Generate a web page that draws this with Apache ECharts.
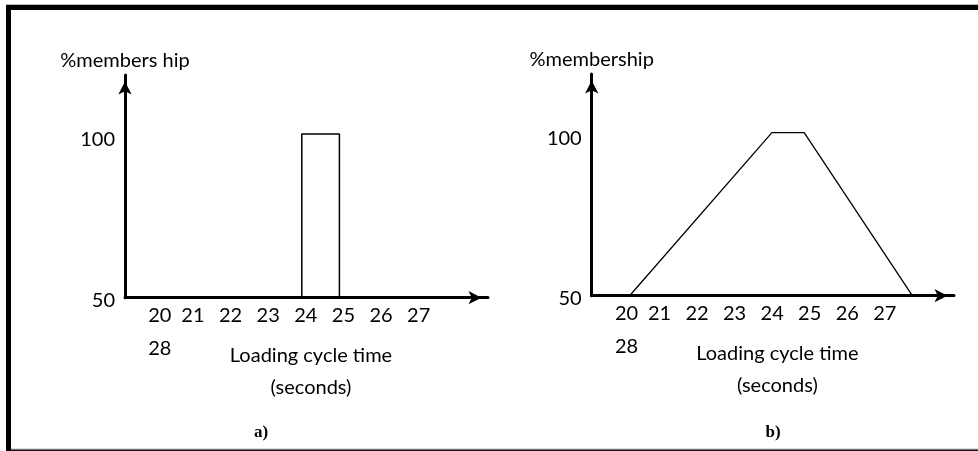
<!DOCTYPE html>
<html>
<head>
<meta charset="utf-8">
<script src="https://cdn.jsdelivr.net/npm/echarts@6/dist/echarts.min.js"></script>
<style>html,body{margin:0;padding:0;background:#fff}#c{width:978px;height:451px}</style>
</head>
<body>
<div id="c"></div>
<script>
// ---- data ----
const xTickValues = [20, 21, 22, 23, 24, 25, 26, 27];
const wrappedTick = '28';
const yTickValues = [50, 100];
const yNameA = '%members hip';
const yNameB = '%membership';
const xName = 'Loading cycle time\n(seconds)';
const captions = ['a)', 'b)'];
// panel a: crisp membership (rectangle)
const crispX = [24, 24, 25, 25];
const crispY = [50, 100, 100, 50];
// panel b: fuzzy membership (trapezoid)
const fuzzyX = [20.31, 24.10, 24.96, 27.84];
const fuzzyY = [50, 100, 100, 50];

const FONT = 'Lato';
const chart = echarts.init(document.getElementById('c'), null, {renderer: 'canvas'});

function pairs(xs, ys) { return xs.map((x, i) => [x, ys[i]]); }

function xAxisFor(gi) {
  return {
    type: 'value', gridIndex: gi, min: 19.3, max: 28.95,
    splitLine: {show: false}, axisTick: {show: false},
    axisLine: {lineStyle: {color: '#000', width: 3}, symbol: ['none', 'arrow'], symbolSize: [10, 13], symbolOffset: [0, -6.5]},
    axisLabel: {
      customValues: xTickValues, margin: 7, color: '#000',
      formatter: v => v === 20 ? '{f|20}\n{g|' + wrappedTick + '}' : '{n|' + v + '}',
      rich: {
        n: {fontFamily: FONT, fontSize: 20, color: '#000', lineHeight: 22, padding: [0, 0, 0, 8]},
        f: {fontFamily: FONT, fontSize: 20, color: '#000', lineHeight: 22, padding: [0, 0, 0, 17]},
        g: {fontFamily: FONT, fontSize: 20, color: '#000', lineHeight: 44, padding: [0, 0, 0, 17]}
      }
    },
    name: xName, nameLocation: 'middle', nameGap: 42, nameMoveOverlap: false,
    nameTextStyle: {fontFamily: FONT, fontSize: 20, color: '#000', lineHeight: 32, padding: [0, 0, 0, 9]}
  };
}
function yAxisFor(gi, name) {
  return {
    type: 'value', gridIndex: gi, min: 50, max: 118,
    splitLine: {show: false}, axisTick: {show: false},
    axisLine: {lineStyle: {color: '#000', width: 3}, symbol: ['none', 'arrow'], symbolSize: [10, 13], symbolOffset: [0, -6.5]},
    axisLabel: {
      customValues: yTickValues, margin: 10, color: '#000',
      formatter: v => v === 100 ? '{h|' + v + '}' : '{n|' + v + '}',
      rich: {
        n: {fontFamily: FONT, fontSize: 20, color: '#000', padding: [5, 0, 0, 0]},
        h: {fontFamily: FONT, fontSize: 20, color: '#000', padding: [11, 0, 0, 0]}
      }
    },
    name: name, nameLocation: 'end', nameGap: 2, nameMoveOverlap: false,
    nameTextStyle: {fontFamily: FONT, fontSize: 20, color: '#000', lineHeight: 24}
  };
}

const option = {
  backgroundColor: '#fff',
  animation: false,
  grid: [
    {left: 125, top: 75, width: 363, height: 222.7, outerBoundsMode: 'none'},
    {left: 591.7, top: 74, width: 362.3, height: 221.7, outerBoundsMode: 'none'}
  ],
  xAxis: [xAxisFor(0), xAxisFor(1)],
  yAxis: [yAxisFor(0, yNameA), yAxisFor(1, yNameB)],
  series: [
    {type: 'line', xAxisIndex: 0, yAxisIndex: 0, data: pairs(crispX, crispY), showSymbol: false, z: 1,
     lineStyle: {color: '#000', width: 1.5}},
    {type: 'line', xAxisIndex: 1, yAxisIndex: 1, data: pairs(fuzzyX, fuzzyY), showSymbol: false, z: 1,
     lineStyle: {color: '#000', width: 1.3}}
  ],
  graphic: [
    {type: 'rect', shape: {x: 6, y: 4, width: 972, height: 1}, style: {fill: '#bbb'}, silent: true},
    {type: 'rect', shape: {x: 6, y: 5, width: 972, height: 5}, style: {fill: '#000'}, silent: true},
    {type: 'rect', shape: {x: 6, y: 5, width: 5, height: 446}, style: {fill: '#000'}, silent: true},
    {type: 'rect', shape: {x: 11, y: 448.5, width: 967, height: 1}, style: {fill: '#bbb'}, silent: true},
    {type: 'rect', shape: {x: 11, y: 449.5, width: 967, height: 1.5}, style: {fill: '#111'}, silent: true},
    {type: 'text', x: 261, y: 433, style: {text: captions[0], fontFamily: 'Liberation Serif', fontWeight: 'bold', fontSize: 17, fill: '#000', align: 'center', verticalAlign: 'middle'}},
    {type: 'text', x: 773, y: 433, style: {text: captions[1], fontFamily: 'Liberation Serif', fontWeight: 'bold', fontSize: 17, fill: '#000', align: 'center', verticalAlign: 'middle'}}
  ]
};
chart.setOption(option);
</script>
</body>
</html>
